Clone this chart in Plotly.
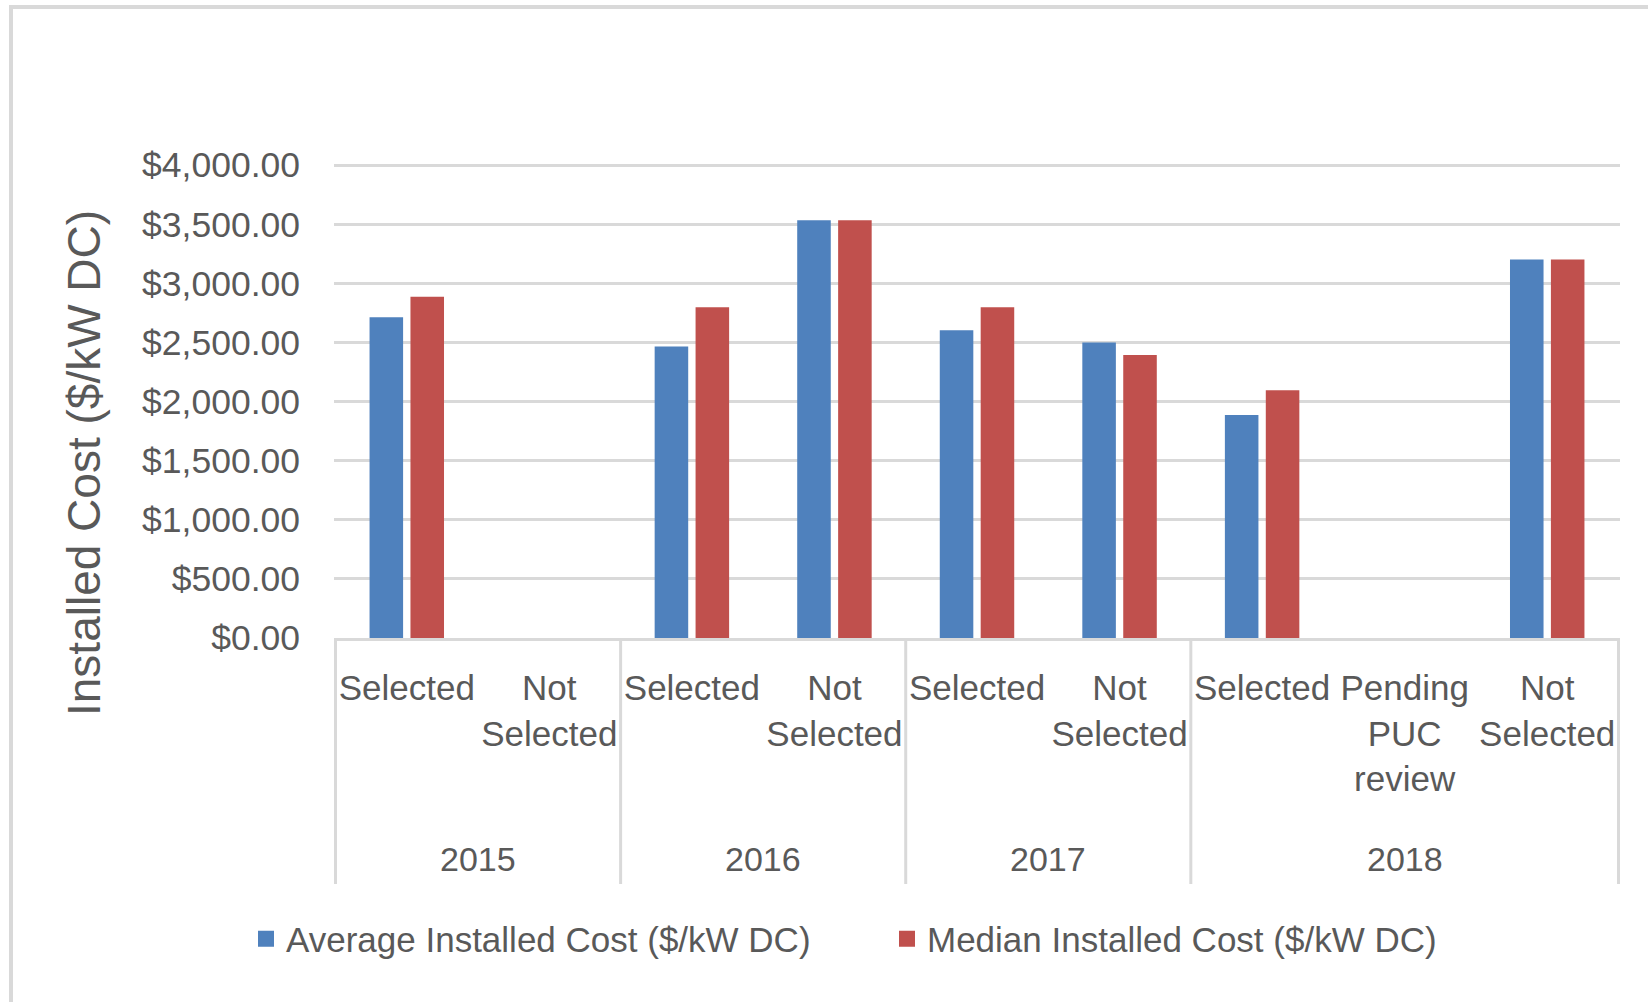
import plotly.graph_objects as go

# Installed cost of solar projects by program year and selection status
years = ["2015", "2016", "2017", "2018"]
statuses = [
    ["Selected", "Not Selected"],
    ["Selected", "Not Selected"],
    ["Selected", "Not Selected"],
    ["Selected", "Pending PUC review", "Not Selected"],
]
average_cost = [2713, None, 2465, 3532, 2603, 2499, 1885, None, 3200]
median_cost = [2885, None, 2797, 3532, 2797, 2394, 2096, None, 3200]
y_ticks = [0, 500, 1000, 1500, 2000, 2500, 3000, 3500, 4000]

series_names = ["Average Installed Cost ($/kW DC)", "Median Installed Cost ($/kW DC)"]
series_colors = ["#4f81bd", "#c0504d"]

label_lines = {
    "Selected": "Selected",
    "Not Selected": "Not<br>Selected",
    "Pending PUC review": "Pending<br>PUC<br>review",
}

TEXT = "#595959"
GRID = "#d9d9d9"
FONT = "Liberation Sans, Arial, sans-serif"

# unique category keys for each year/status pair
keys, tick_text = [], []
for yr, sts in zip(years, statuses):
    for s in sts:
        keys.append(f"{yr} | {s}")
        tick_text.append(label_lines[s])

W, H = 1648, 1002
L, R, T, B = 334, 28, 163, 364
plot_w, plot_h = W - L - R, H - T - B
Y_MAX = 4017  # a little headroom so the top gridline is drawn


def px_x(p):
    return (p - L) / plot_w


def px_y(p):
    return (H - B - p) / plot_h


fig = go.Figure()
legend_ids = ["legend", "legend2"]
for name, vals, col, lg in zip(series_names, [average_cost, median_cost], series_colors, legend_ids):
    fig.add_trace(go.Bar(x=keys, y=vals, name=name, showlegend=False,
                         marker=dict(color=col, line=dict(width=0))))
    # legend entry with a larger square swatch
    fig.add_trace(go.Scatter(x=[None], y=[None], mode="markers", name=name, legend=lg,
                             marker=dict(symbol="square", size=20, color=col)))

# group dividers and year labels below the category labels
shapes, annotations = [], []
start = 0
bounds = [-0.5]
for yr, sts in zip(years, statuses):
    n = len(sts)
    annotations.append(dict(
        x=start + (n - 1) / 2, y=px_y(859), xref="x", yref="paper",
        text=yr, showarrow=False, yanchor="middle",
        font=dict(size=34, color=TEXT, family=FONT)))
    start += n
    bounds.append(start - 0.5)
for b in bounds:
    shapes.append(dict(type="line", xref="x", yref="paper", x0=b, x1=b,
                       y0=0, y1=px_y(884), line=dict(color=GRID, width=3)))

# chart frame
shapes.append(dict(type="rect", xref="paper", yref="paper",
                   x0=px_x(11), x1=px_x(W + 20), y0=px_y(H + 20), y1=px_y(7),
                   line=dict(color=GRID, width=4), layer="below"))

annotations.append(dict(
    x=px_x(84), y=px_y(463), xref="paper", yref="paper",
    text="Installed Cost ($/kW DC)", textangle=-90, showarrow=False,
    xanchor="center", yanchor="middle",
    font=dict(size=46, color=TEXT, family=FONT)))


def legend_box(left_px):
    return dict(orientation="h", x=px_x(left_px), y=px_y(939),
                xanchor="left", yanchor="middle",
                font=dict(size=35, color=TEXT, family=FONT),
                bgcolor="rgba(0,0,0,0)")


fig.update_layout(
    width=W, height=H,
    margin=dict(l=L, r=R, t=T, b=B, autoexpand=False),
    paper_bgcolor="white", plot_bgcolor="white",
    font=dict(family=FONT, color=TEXT, size=34),
    barmode="group", bargap=0.426, bargroupgap=0.18,
    showlegend=True,
    legend=legend_box(246),
    legend2=legend_box(887),
    shapes=shapes, annotations=annotations,
)
fig.update_xaxes(
    type="category", categoryorder="array", categoryarray=keys,
    tickvals=keys, ticktext=tick_text, ticks="",
    showline=True, linecolor=GRID, linewidth=3, showgrid=False,
    tickfont=dict(size=35, color=TEXT, family=FONT), ticklabelstandoff=17,
)
fig.update_yaxes(
    range=[0, Y_MAX], tickvals=y_ticks, tickformat="$,.2f",
    showgrid=True, gridcolor=GRID, gridwidth=3, zeroline=False, showline=False,
    tickfont=dict(size=35.5, color=TEXT, family=FONT), ticklabelstandoff=33,
)

fig.write_html("out.html")
